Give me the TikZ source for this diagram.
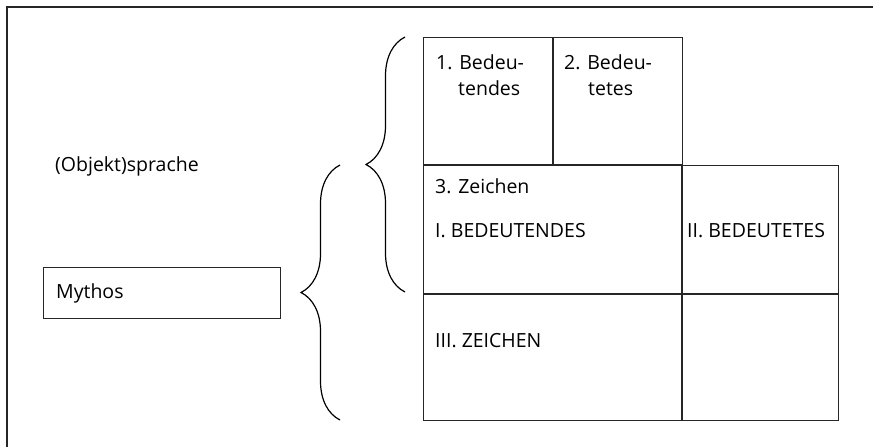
\documentclass[tikz,border=0pt]{standalone}
\usepackage{fontspec}
\setmainfont{Open Sans}
\usetikzlibrary{
  decorations.pathreplacing,% geschweifte Klammern
  positioning               % relative Platzierung
}
\tikzset{
  cell/.style={
    draw=black!85,
    line width=1.1pt,
    inner sep=0pt,
    anchor=north west
  },
  cell text/.style={
    font=\fontsize{19.5}{26}\selectfont,
    inner sep=0pt,
    anchor=base west
  },
  curly/.style={
    decorate,
    decoration={brace, amplitude=39pt, aspect=0.5},
    line width=1.2pt
  },
  frame line/.style={
    line width=2pt,
    color=black!85
  }
}

\begin{document}
\begin{tikzpicture}[x=1pt, y=1pt]
    \useasboundingbox (0,0) rectangle (873,-447);

    % --- Rahmen (nur oben und links sichtbar) ---
    \draw[frame line] (873,-7) -- (7,-7) -- (7,-447);

    % --- Tabelle: obere Zeile ---
    \node[cell, minimum width=129pt, minimum height=127pt] (bed1) at (423,-37) {};
    \node[cell, minimum width=129pt, minimum height=127pt] (bed2) at (bed1.north east) {};

    % mittlere Zeile
    \node[cell, minimum width=258pt, minimum height=128pt] (zei3) at (bed1.south west) {};
    \node[cell, minimum width=156pt, minimum height=128pt] (bedII) at (zei3.north east) {};

    % untere Zeile
    \node[cell, minimum width=258pt, minimum height=126pt] (zeiIII) at (zei3.south west) {};
    \node[cell, minimum width=156pt, minimum height=126pt] (leer) at (zeiIII.north east) {};

    % --- Beschriftungen der Felder ---
    \node[cell text] (t1a) at (436,-69) {1. Bedeu-};
    \node[cell text] (t1b) at (458,-95) {tendes};
    \node[cell text] (t2a) at (564,-69) {2. Bedeu-};
    \node[cell text] (t2b) at (588,-95) {tetes};
    \node[cell text] (t3) at (435,-193) {3. Zeichen};
    \node[cell text] (tI) at (435,-237) {I. BEDEUTENDES};
    \node[cell text] (tII) at (687,-237) {II. BEDEUTETES};
    \node[cell text] (tIII) at (435,-347) {III. ZEICHEN};

    % --- linke Seite ---
    \node[cell text] (sprache) at (55,-171) {(Objekt)sprache};
    \node[cell, minimum width=237pt, minimum height=51pt] (mythos) at (43,-267) {};
    \node[cell text] (mythostxt) at (56,-298) {Mythos};

    % --- Klammern ---
    \coordinate (ob oben) at (405,-37);
    \coordinate (ob unten) at (405,-292);
    \coordinate (un oben) at (340,-165);
    \coordinate (un unten) at (340,-420);
    \draw[curly] (ob unten) -- (ob oben);
    \draw[curly] (un unten) -- (un oben);

\end{tikzpicture}
\end{document}
